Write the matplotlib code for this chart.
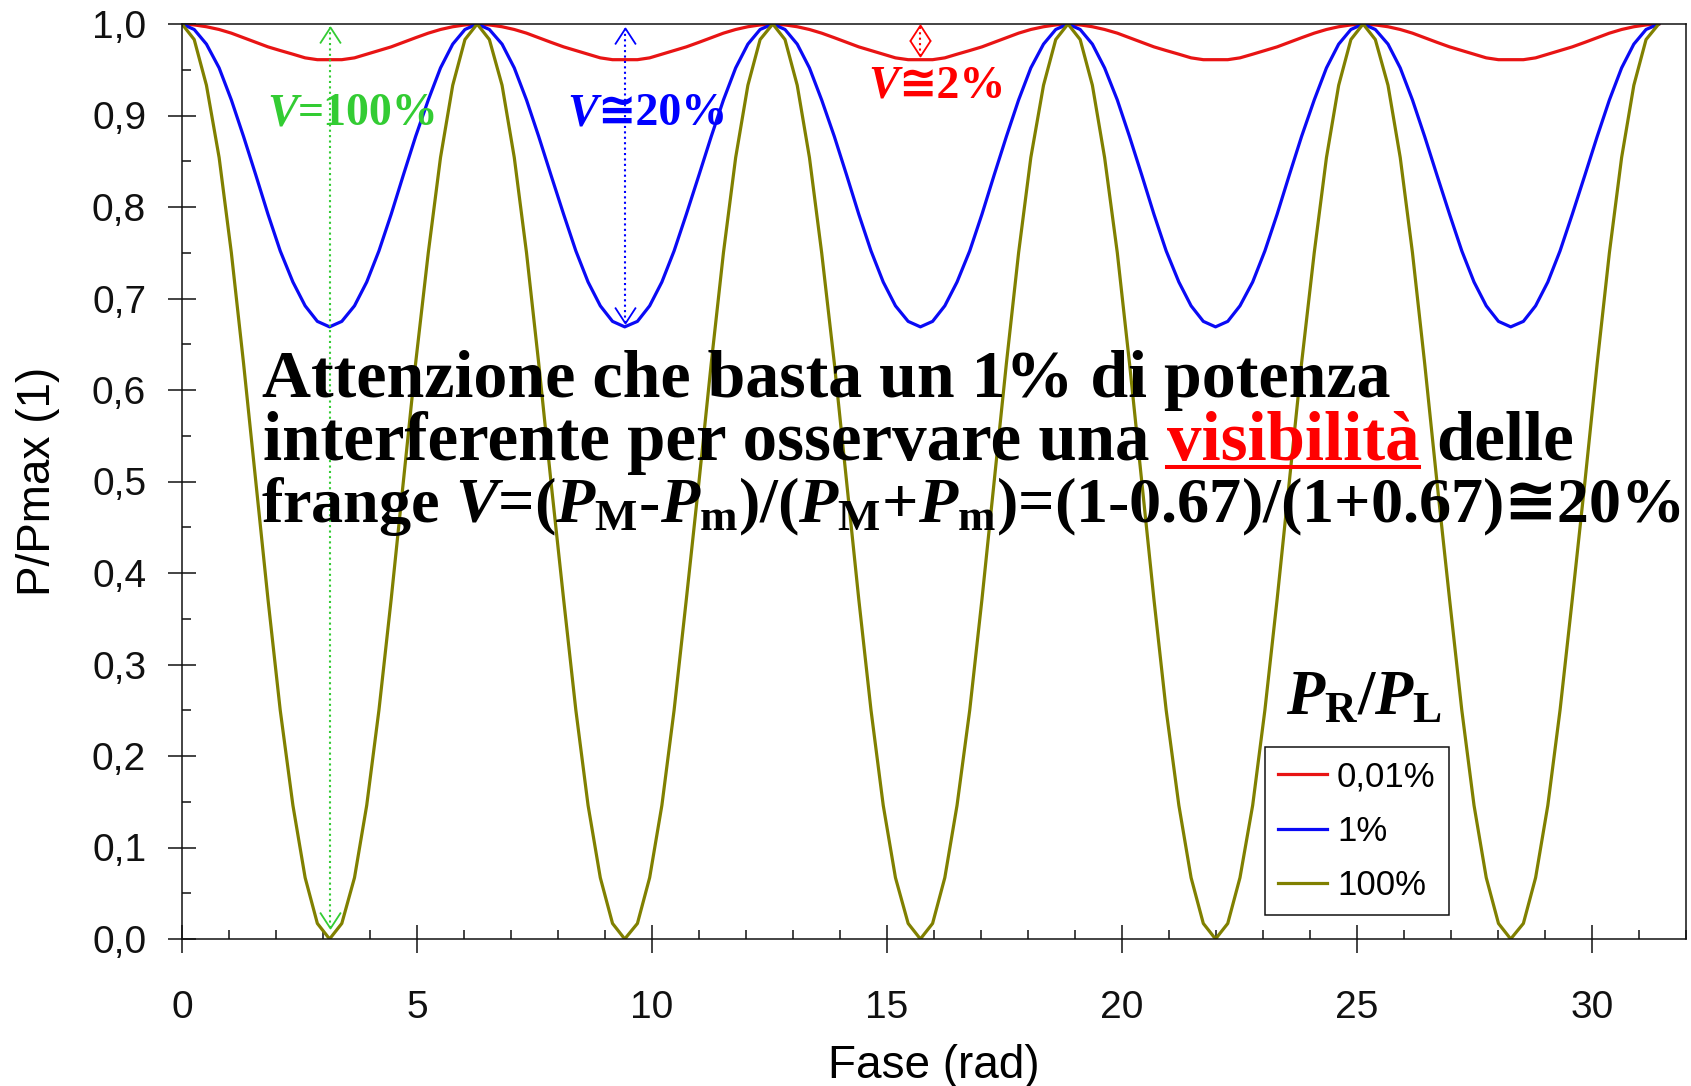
import numpy as np
import matplotlib
matplotlib.use("Agg")
import matplotlib.pyplot as plt
from matplotlib.path import Path
from matplotlib.lines import Line2D

plt.rcParams['font.family'] = ['Liberation Sans', 'DejaVu Sans']
plt.rcParams['mathtext.fontset'] = 'custom'
plt.rcParams['mathtext.rm'] = 'Liberation Serif:bold'
plt.rcParams['mathtext.it'] = 'Liberation Serif:bold:italic'
plt.rcParams['mathtext.bf'] = 'Liberation Serif:bold'
plt.rcParams['mathtext.fallback'] = 'stix'

# ---------------- data ----------------
phase = [
    0.00, 0.26, 0.52, 0.79, 1.05, 1.31, 1.57, 1.83, 2.09, 2.36, 2.62, 2.88, 3.14, 3.40, 3.67, 3.93, 4.19, 4.45, 4.71, 4.97, 5.24, 5.50, 5.76, 6.02, 6.28,
    6.54, 6.81, 7.07, 7.33, 7.59, 7.85, 8.12, 8.38, 8.64, 8.90, 9.16, 9.42, 9.69, 9.95, 10.21, 10.47, 10.73, 11.00, 11.26, 11.52, 11.78, 12.04, 12.30, 12.57,
    12.83, 13.09, 13.35, 13.61, 13.88, 14.14, 14.40, 14.66, 14.92, 15.18, 15.45, 15.71, 15.97, 16.23, 16.49, 16.76, 17.02, 17.28, 17.54, 17.80, 18.06, 18.33, 18.59, 18.85,
    19.11, 19.37, 19.63, 19.90, 20.16, 20.42, 20.68, 20.94, 21.21, 21.47, 21.73, 21.99, 22.25, 22.51, 22.78, 23.04, 23.30, 23.56, 23.82, 24.09, 24.35, 24.61, 24.87, 25.13,
    25.39, 25.66, 25.92, 26.18, 26.44, 26.70, 26.97, 27.23, 27.49, 27.75, 28.01, 28.27, 28.54, 28.80, 29.06, 29.32, 29.58, 29.85, 30.11, 30.37, 30.63, 30.89, 31.15, 31.42,
]

p_0_01 = [
    1.000, 0.999, 0.997, 0.994, 0.990, 0.985, 0.980, 0.975, 0.971, 0.967, 0.963, 0.961, 0.961, 0.961, 0.963, 0.967, 0.971, 0.975, 0.980, 0.985, 0.990, 0.994, 0.997, 0.999, 1.000,
    0.999, 0.997, 0.994, 0.990, 0.985, 0.980, 0.975, 0.971, 0.967, 0.963, 0.961, 0.961, 0.961, 0.963, 0.967, 0.971, 0.975, 0.980, 0.985, 0.990, 0.994, 0.997, 0.999, 1.000,
    0.999, 0.997, 0.994, 0.990, 0.985, 0.980, 0.975, 0.971, 0.967, 0.963, 0.961, 0.961, 0.961, 0.963, 0.967, 0.971, 0.975, 0.980, 0.985, 0.990, 0.994, 0.997, 0.999, 1.000,
    0.999, 0.997, 0.994, 0.990, 0.985, 0.980, 0.975, 0.971, 0.967, 0.963, 0.961, 0.961, 0.961, 0.963, 0.967, 0.971, 0.975, 0.980, 0.985, 0.990, 0.994, 0.997, 0.999, 1.000,
    0.999, 0.997, 0.994, 0.990, 0.985, 0.980, 0.975, 0.971, 0.967, 0.963, 0.961, 0.961, 0.961, 0.963, 0.967, 0.971, 0.975, 0.980, 0.985, 0.990, 0.994, 0.997, 0.999, 1.000,
]

p_1 = [
    1.000, 0.994, 0.978, 0.952, 0.917, 0.877, 0.835, 0.792, 0.752, 0.718, 0.692, 0.675, 0.669, 0.675, 0.692, 0.718, 0.752, 0.792, 0.835, 0.877, 0.917, 0.952, 0.978, 0.994, 1.000,
    0.994, 0.978, 0.952, 0.917, 0.877, 0.835, 0.792, 0.752, 0.718, 0.692, 0.675, 0.669, 0.675, 0.692, 0.718, 0.752, 0.792, 0.835, 0.877, 0.917, 0.952, 0.978, 0.994, 1.000,
    0.994, 0.978, 0.952, 0.917, 0.877, 0.835, 0.792, 0.752, 0.718, 0.692, 0.675, 0.669, 0.675, 0.692, 0.718, 0.752, 0.792, 0.835, 0.877, 0.917, 0.952, 0.978, 0.994, 1.000,
    0.994, 0.978, 0.952, 0.917, 0.877, 0.835, 0.792, 0.752, 0.718, 0.692, 0.675, 0.669, 0.675, 0.692, 0.718, 0.752, 0.792, 0.835, 0.877, 0.917, 0.952, 0.978, 0.994, 1.000,
    0.994, 0.978, 0.952, 0.917, 0.877, 0.835, 0.792, 0.752, 0.718, 0.692, 0.675, 0.669, 0.675, 0.692, 0.718, 0.752, 0.792, 0.835, 0.877, 0.917, 0.952, 0.978, 0.994, 1.000,
]

p_100 = [
    1.000, 0.983, 0.933, 0.854, 0.750, 0.629, 0.500, 0.371, 0.250, 0.146, 0.067, 0.017, 0.000, 0.017, 0.067, 0.146, 0.250, 0.371, 0.500, 0.629, 0.750, 0.854, 0.933, 0.983, 1.000,
    0.983, 0.933, 0.854, 0.750, 0.629, 0.500, 0.371, 0.250, 0.146, 0.067, 0.017, 0.000, 0.017, 0.067, 0.146, 0.250, 0.371, 0.500, 0.629, 0.750, 0.854, 0.933, 0.983, 1.000,
    0.983, 0.933, 0.854, 0.750, 0.629, 0.500, 0.371, 0.250, 0.146, 0.067, 0.017, 0.000, 0.017, 0.067, 0.146, 0.250, 0.371, 0.500, 0.629, 0.750, 0.854, 0.933, 0.983, 1.000,
    0.983, 0.933, 0.854, 0.750, 0.629, 0.500, 0.371, 0.250, 0.146, 0.067, 0.017, 0.000, 0.017, 0.067, 0.146, 0.250, 0.371, 0.500, 0.629, 0.750, 0.854, 0.933, 0.983, 1.000,
    0.983, 0.933, 0.854, 0.750, 0.629, 0.500, 0.371, 0.250, 0.146, 0.067, 0.017, 0.000, 0.017, 0.067, 0.146, 0.250, 0.371, 0.500, 0.629, 0.750, 0.854, 0.933, 0.983, 1.000,
]

series_labels = ['0,01%', '1%', '100%']
x_ticks = [0, 5, 10, 15, 20, 25, 30]
x_ticklabels = ['0', '5', '10', '15', '20', '25', '30']
y_ticks = [0.0, 0.1, 0.2, 0.3, 0.4, 0.5, 0.6, 0.7, 0.8, 0.9, 1.0]
y_ticklabels = ['0,0', '0,1', '0,2', '0,3', '0,4', '0,5', '0,6', '0,7', '0,8', '0,9', '1,0']
x_label = 'Fase (rad)'
y_label = 'P/Pmax (1)'

# ---------------- figure ----------------
W, H = 1691, 1086
fig = plt.figure(figsize=(W / 100, H / 100), dpi=100)
ax = fig.add_axes([182 / W, 1 - 939 / H, (1686 - 182) / W, (939 - 24) / H])

colors = ['#e81414', '#0a0af5', '#808000']
for yv, lab, c in zip([p_0_01, p_1, p_100], series_labels, colors):
    ax.plot(phase, yv, color=c, lw=2.3, label=lab, zorder=2)

ax.set_xlim(0, 32)
ax.set_ylim(0, 1.0)
ax.set_xticks(x_ticks)
ax.set_xticklabels(x_ticklabels)
ax.set_xticks(np.arange(0, 33, 1), minor=True)
ax.set_yticks(y_ticks)
ax.set_yticklabels(y_ticklabels)
ax.set_yticks(np.arange(0, 1.001, 0.05), minor=True)

ax.tick_params(which='major', direction='inout', length=20, width=1.1,
               labelsize=28, colors='#111111')
ax.tick_params(which='minor', direction='in', length=6.5, width=1.1, colors='#111111')
ax.tick_params(axis='y', which='major', pad=15.8)
ax.tick_params(axis='x', which='major', pad=26.6)
for sp in ax.spines.values():
    sp.set_linewidth(1.1)
    sp.set_color('#111111')

ax.set_xlabel(x_label, fontsize=33)
ax.set_ylabel(y_label, fontsize=33)
ax.xaxis.set_label_coords(0.5, -0.1148)
ax.yaxis.set_label_coords(-0.0811, 0.5)

# ---------------- visibility arrows ----------------
up_head = Path([(-0.65, -1.0), (0, 0), (0.65, -1.0)], [Path.MOVETO, Path.LINETO, Path.LINETO])
down_head = Path([(-0.65, 1.0), (0, 0), (0.65, 1.0)], [Path.MOVETO, Path.LINETO, Path.LINETO])


def vis_arrow(x, ylo, yhi, color):
    ax.plot([x, x], [ylo, yhi], color=color, lw=1.5, ls=(0, (1.0, 1.6)), zorder=4)
    ax.plot([x], [yhi], marker=up_head, ms=23, mfc='none', mec=color, mew=1.3, zorder=4, clip_on=False)
    ax.plot([x], [ylo], marker=down_head, ms=23, mfc='none', mec=color, mew=1.3, zorder=4, clip_on=False)


GREEN, BLUE, RED = '#33cc33', '#0000ff', '#ff0000'
vis_arrow(phase[12], min(p_100) + 0.012, max(p_100) - 0.003, GREEN)
vis_arrow(phase[36], min(p_1) + 0.004, max(p_1) - 0.004, BLUE)
vis_arrow(phase[60], min(p_0_01) + 0.004, max(p_0_01) - 0.001, RED)

# ---------------- legend ----------------
leg = ax.legend(loc='upper left', bbox_to_anchor=(1265 / W, 1 - 747 / H),
                bbox_transform=fig.transFigure, borderaxespad=0, fontsize=25,
                handlelength=1.4, handletextpad=0.29, labelspacing=0.62,
                borderpad=0.38, fancybox=False, framealpha=1, edgecolor='#111111')
leg.get_frame().set_linewidth(1.1)
for h in leg.get_lines():
    h.set_linewidth(2.3)
fig.text(1364 / W, 1 - 714 / H, r"$P_{\mathrm{R}}/P_{\mathrm{L}}$", fontsize=45,
         ha='center', va='baseline', family=['Liberation Serif', 'DejaVu Serif'])

# ---------------- chained rich text ----------------
SERIF = ['Liberation Serif', 'DejaVu Serif', 'DejaVu Sans']


def put_chain(pieces, x_px, base_px, size):
    arts = []
    yf = 1 - base_px / H
    prev = None
    for s, kw, gap in pieces:
        props = dict(fontsize=size, fontweight='bold', family=SERIF,
                     va='baseline', ha='left', color='black', zorder=6)
        props.update(kw)
        if prev is None:
            t = fig.text(x_px / W, yf, s, **props)
        else:
            t = ax.annotate(s, xy=(1, yf), xycoords=(prev, 'figure fraction'),
                            xytext=(gap * size * 100 / 72, 0), textcoords='offset pixels',
                            annotation_clip=False, **props)
        arts.append(t)
        prev = t
    return arts


line1 = [("Attenzione che basta un 1% di potenza", {}, 0)]
line2 = [("interferente per osservare una", {}, 0),
         ("visibilità", {'color': '#ff0000'}, 0.25),
         ("delle", {}, 0.25)]
line3 = [(r"frange $V$=($P_{\mathrm{M}}$-$P_{\mathrm{m}}$)/($P_{\mathrm{M}}$+$P_{\mathrm{m}}$)=(1-0.67)/(1+0.67)", {}, 0),
         ("≅20%", {}, 0.0)]

layout = [(line1, 262, 397, 1126), (line2, 263, 460, 1309), (line3, 261, 522, 1424)]

size0 = 46
built = []
for pieces, x, b, target in layout:
    arts = put_chain(pieces, x, b, size0)
    fig.canvas.draw()
    r = fig.canvas.get_renderer()
    w = arts[-1].get_window_extent(r).x1 - arts[0].get_window_extent(r).x0
    for a in arts:
        a.remove()
    built.append(put_chain(pieces, x, b, size0 * target / w))

# annotation labels
put_chain([("V", {'style': 'italic', 'color': GREEN}, 0), ("=100%", {'color': GREEN}, 0.0)], 267, 125, 33)
put_chain([("V", {'style': 'italic', 'color': BLUE}, 0), ("≅20%", {'color': BLUE}, 0.0)], 567, 125, 33)
put_chain([("V", {'style': 'italic', 'color': RED}, 0), ("≅2%", {'color': RED}, 0.0)], 868, 98, 33)

# underline under "visibilità"
fig.canvas.draw()
bbv = built[1][1].get_window_extent(fig.canvas.get_renderer())
yline = (H - 460) - 7
fig.add_artist(Line2D([bbv.x0 / W, bbv.x1 / W], [yline / H, yline / H],
                      transform=fig.transFigure, color='#ff0000', lw=2.9, zorder=6))

fig.savefig("out.png", dpi=100)
